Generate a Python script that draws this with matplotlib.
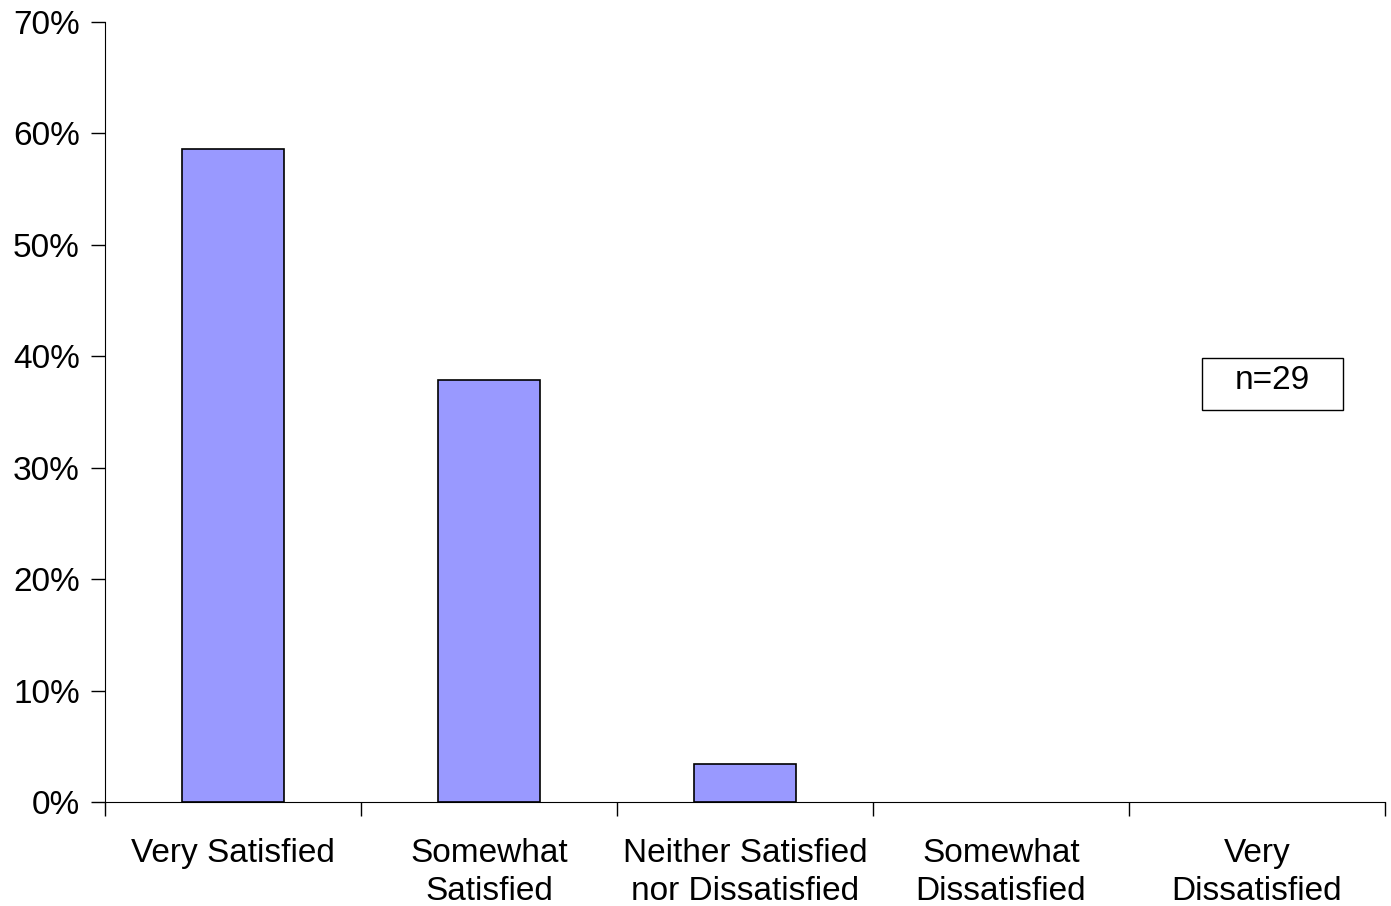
import numpy as np
import matplotlib.pyplot as plt
from matplotlib.patches import Rectangle
from matplotlib.ticker import FixedLocator, PercentFormatter

plt.rcParams['font.family'] = ['Liberation Sans', 'DejaVu Sans']

categories = ["Very Satisfied", "Somewhat\nSatisfied", "Neither Satisfied\nnor Dissatisfied",
              "Somewhat\nDissatisfied", "Very\nDissatisfied"]
shares = [58.6, 37.9, 3.4, 0.0, 0.0]
n_label = "n=29"

fig = plt.figure(figsize=(13.91, 9.06), dpi=100)
ax = fig.add_axes([0.0755, 0.1148, 0.9202, 0.8609])

x = np.arange(len(categories))
edges = ["black" if v > 0 else "none" for v in shares]
ax.bar(x, shares, width=0.4, color="#9999FF", edgecolor=edges, linewidth=1.2)

ax.set_xlim(-0.5, len(categories) - 0.5)
ax.set_ylim(0, 70)
ax.yaxis.set_major_locator(FixedLocator(np.arange(0, 71, 10)))
ax.yaxis.set_major_formatter(PercentFormatter(decimals=0))
ax.tick_params(axis="y", direction="out", length=10, width=1, labelsize=24, pad=8)

# boundary ticks without labels, category names on minor ticks
ax.set_xticks(np.arange(-0.5, len(categories), 1.0))
ax.set_xticklabels([])
ax.tick_params(axis="x", which="major", direction="out", length=10, width=1)
ax.set_xticks(x, minor=True)
ax.set_xticklabels(categories, minor=True, fontsize=24, linespacing=1.27)
ax.tick_params(axis="x", which="minor", length=0, pad=26)

for side in ["top", "right"]:
    ax.spines[side].set_visible(False)

# n= box
ax.add_patch(Rectangle((0.857, 0.5026), 0.110, 0.0666, transform=ax.transAxes,
                       facecolor="white", edgecolor="black", linewidth=1))
ax.text(0.912, 0.541, n_label, transform=ax.transAxes, fontsize=24,
        ha="center", va="center")
ax.patch.set_visible(False)

fig.savefig("out.png", dpi=100)
